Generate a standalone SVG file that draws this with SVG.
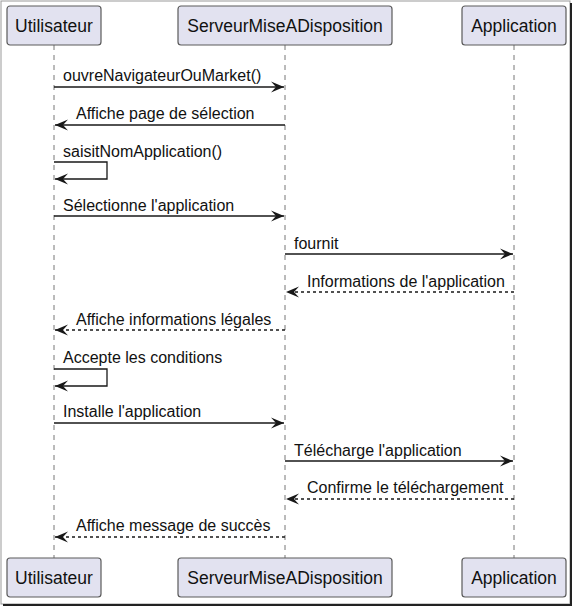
<svg xmlns="http://www.w3.org/2000/svg" width="573" height="608" viewBox="0 0 573 608">
<defs>
<marker id="ah" markerWidth="14" markerHeight="12" refX="13" refY="6" orient="auto" markerUnits="userSpaceOnUse">
<polygon points="0,0.5 13,6 0,11.5 5,6" fill="#181818"/>
</marker>
<style>
.box{fill:#E2E2F0;stroke:#5a5a5a;stroke-width:1.2}
.pt{font-family:"Liberation Sans",Arial,sans-serif;font-size:17.5px;fill:#111}
.mt{font-family:"Liberation Sans",Arial,sans-serif;font-size:16px;fill:#111}
.life{stroke:#777;stroke-width:1;stroke-dasharray:5,5;fill:none}
.msg{stroke:#181818;stroke-width:1.3;fill:none}
.dash{stroke-dasharray:3,3}
</style>
</defs>
<rect x="0" y="0" width="573" height="608" fill="#fff"/>
<rect x="1" y="1" width="569" height="603" fill="none" stroke="#999" stroke-width="1"/>
<line x1="571" y1="3" x2="571" y2="606" stroke="#222" stroke-width="2"/>
<line x1="3" y1="605" x2="572" y2="605" stroke="#222" stroke-width="2"/>
<g id="lifelines">
<line class="life" x1="54" y1="45" x2="54" y2="558"/>
<line class="life" x1="285" y1="45" x2="285" y2="558"/>
<line class="life" x1="514" y1="45" x2="514" y2="558"/>
</g>
<g id="p-utilisateur">
<rect class="box" x="7" y="6" width="94" height="39" rx="3"/>
<text class="pt" x="54" y="32" text-anchor="middle">Utilisateur</text>
<rect class="box" x="7" y="558" width="94" height="39" rx="3"/>
<text class="pt" x="54" y="584" text-anchor="middle">Utilisateur</text>
</g>
<g id="p-serveur">
<rect class="box" x="178" y="6" width="214" height="39" rx="3"/>
<text class="pt" x="285" y="32" text-anchor="middle">ServeurMiseADisposition</text>
<rect class="box" x="178" y="558" width="214" height="39" rx="3"/>
<text class="pt" x="285" y="584" text-anchor="middle">ServeurMiseADisposition</text>
</g>
<g id="p-application">
<rect class="box" x="462" y="6" width="104" height="39" rx="3"/>
<text class="pt" x="514" y="32" text-anchor="middle">Application</text>
<rect class="box" x="462" y="558" width="104" height="39" rx="3"/>
<text class="pt" x="514" y="584" text-anchor="middle">Application</text>
</g>
<g id="connectors">
<line class="msg" x1="54" y1="87" x2="284" y2="87" marker-end="url(#ah)"/>
<line class="msg" x1="285" y1="125" x2="55" y2="125" marker-end="url(#ah)"/>
<polyline class="msg" points="54,162 107,162 107,179 55,179" marker-end="url(#ah)"/>
<line class="msg" x1="54" y1="216" x2="284" y2="216" marker-end="url(#ah)"/>
<line class="msg" x1="285" y1="254" x2="513" y2="254" marker-end="url(#ah)"/>
<line class="msg dash" x1="514" y1="292" x2="286" y2="292" marker-end="url(#ah)"/>
<line class="msg dash" x1="285" y1="330" x2="55" y2="330" marker-end="url(#ah)"/>
<polyline class="msg" points="54,369 107,369 107,386 55,386" marker-end="url(#ah)"/>
<line class="msg" x1="54" y1="423" x2="284" y2="423" marker-end="url(#ah)"/>
<line class="msg" x1="285" y1="461" x2="513" y2="461" marker-end="url(#ah)"/>
<line class="msg dash" x1="514" y1="499" x2="286" y2="499" marker-end="url(#ah)"/>
<line class="msg dash" x1="285" y1="537" x2="55" y2="537" marker-end="url(#ah)"/>
</g>
<g id="labels">
<text class="mt" x="63" y="81">ouvreNavigateurOuMarket()</text>
<text class="mt" x="76" y="119">Affiche page de sélection</text>
<text class="mt" x="63" y="157">saisitNomApplication()</text>
<text class="mt" x="63" y="211">Sélectionne l'application</text>
<text class="mt" x="294" y="249">fournit</text>
<text class="mt" x="307" y="287">Informations de l'application</text>
<text class="mt" x="76" y="325">Affiche informations légales</text>
<text class="mt" x="63" y="363">Accepte les conditions</text>
<text class="mt" x="63" y="417">Installe l'application</text>
<text class="mt" x="294" y="456">Télécharge l'application</text>
<text class="mt" x="307" y="493">Confirme le téléchargement</text>
<text class="mt" x="76" y="531">Affiche message de succès</text>
</g>
</svg>
